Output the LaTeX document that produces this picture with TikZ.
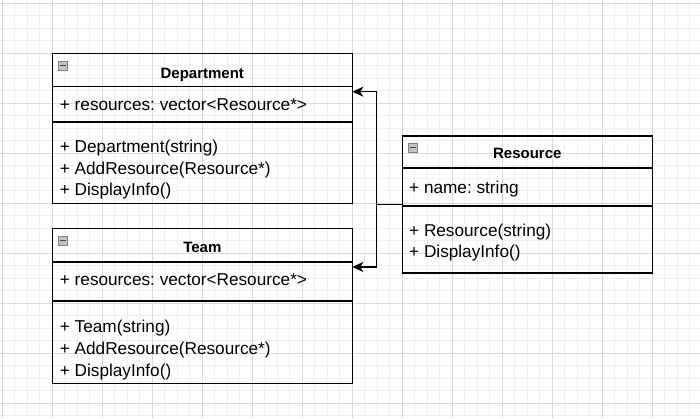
\documentclass[tikz,border=0pt]{standalone}
\usepackage{fontspec}
\setmainfont{Liberation Sans}
\usetikzlibrary{arrows.meta}
\frenchspacing

\definecolor{gridmajor}{HTML}{DADADA}
\definecolor{gridminor}{HTML}{F0F0F0}
\definecolor{icongray}{HTML}{C4C4C4}

\begin{document}
\begin{tikzpicture}[x=1pt,y=-1pt]
        % Define styles for shapes
        \tikzstyle{classbox} = [draw, line width=1.3pt, inner sep=0pt]
        \tikzstyle{classname} = [font=\fontsize{15}{18}\selectfont\bfseries, anchor=base, inner sep=0pt]
        \tikzstyle{member} = [font=\fontsize{17.2}{21}\selectfont, anchor=base west, inner sep=0pt]
        \tikzstyle{divider} = [line width=1.3pt]
        \tikzstyle{collapse} = [draw=gray, fill=icongray, line width=0.7pt]
        \tikzstyle{assoc} = [draw, line width=1.3pt, -{Stealth[length=11pt, width=10pt, inset=3pt]}]

        % Background grid
        \useasboundingbox (0,0) rectangle (700,418);
        \fill[white] (0,0) rectangle (700,418);
        \foreach \x in {2.3,14.8,...,700} \draw[gridminor, line width=1pt] (\x,0) -- (\x,418);
        \foreach \y in {3.3,15.8,...,418} \draw[gridminor, line width=1pt] (0,\y) -- (700,\y);
        \foreach \x in {2.3,52.3,...,700} \draw[gridmajor, line width=1pt] (\x,0) -- (\x,418);
        \foreach \y in {3.3,53.3,...,418} \draw[gridmajor, line width=1pt] (0,\y) -- (700,\y);

        % Draw shapes
        \node[classbox, minimum width=300pt, minimum height=150pt] (dept) at (202.3,128.3) {};
        \draw[divider] (52.3,86.7) -- (352.3,86.7);
        \draw[divider] (52.3,122) -- (352.3,122);
        \draw[collapse] (58.3,61) rectangle (67.8,70);
        \draw[darkgray, line width=1.3pt] (60,65.5) -- (66.1,65.5);
        \node[classname] (dept-title) at (202.3,78) {Department};
        \node[member] (dept-res) at (59.7,110.5) {+ resources: vector<Resource*>};
        \node[member] (dept-ctor) at (59.7,152.3) {+ Department(string)};
        \node[member] (dept-add) at (59.7,174) {+ AddResource(Resource*)};
        \node[member] (dept-info) at (59.7,195.7) {+ DisplayInfo()};

        \node[classbox, minimum width=300pt, minimum height=155pt] (team) at (202.3,305.8) {};
        \draw[divider] (52.3,262) -- (352.3,262);
        \draw[divider] (52.3,301) -- (352.3,301);
        \draw[collapse] (58.3,236) rectangle (67.8,245);
        \draw[darkgray, line width=1.3pt] (60,240.5) -- (66.1,240.5);
        \node[classname] (team-title) at (202.3,252.5) {Team};
        \node[member] (team-res) at (59.7,285.5) {+ resources: vector<Resource*>};
        \node[member] (team-ctor) at (59.7,332.6) {+ Team(string)};
        \node[member] (team-add) at (59.7,354.3) {+ AddResource(Resource*)};
        \node[member] (team-info) at (59.7,376) {+ DisplayInfo()};

        \node[classbox, minimum width=250pt, minimum height=137pt] (res) at (527.3,204.5) {};
        \draw[divider] (402.3,168) -- (652.3,168);
        \draw[divider] (402.3,206) -- (652.3,206);
        \draw[collapse] (408.3,143) rectangle (417.8,152);
        \draw[darkgray, line width=1.3pt] (410,147.5) -- (416.1,147.5);
        \node[classname] (res-title) at (527.3,158.5) {Resource};
        \node[member] (res-name) at (409,193) {+ name: string};
        \node[member] (res-ctor) at (409,236) {+ Resource(string)};
        \node[member] (res-info) at (409,257.7) {+ DisplayInfo()};

        % Draw arrows
        \coordinate (dept-port) at (352.3,91.7);
        \coordinate (team-port) at (352.3,267);
        \draw[assoc] (res.west) -- ++(-25,0) |- (dept-port);
        \draw[assoc] (res.west) -- ++(-25,0) |- (team-port);
\end{tikzpicture}
\end{document}
